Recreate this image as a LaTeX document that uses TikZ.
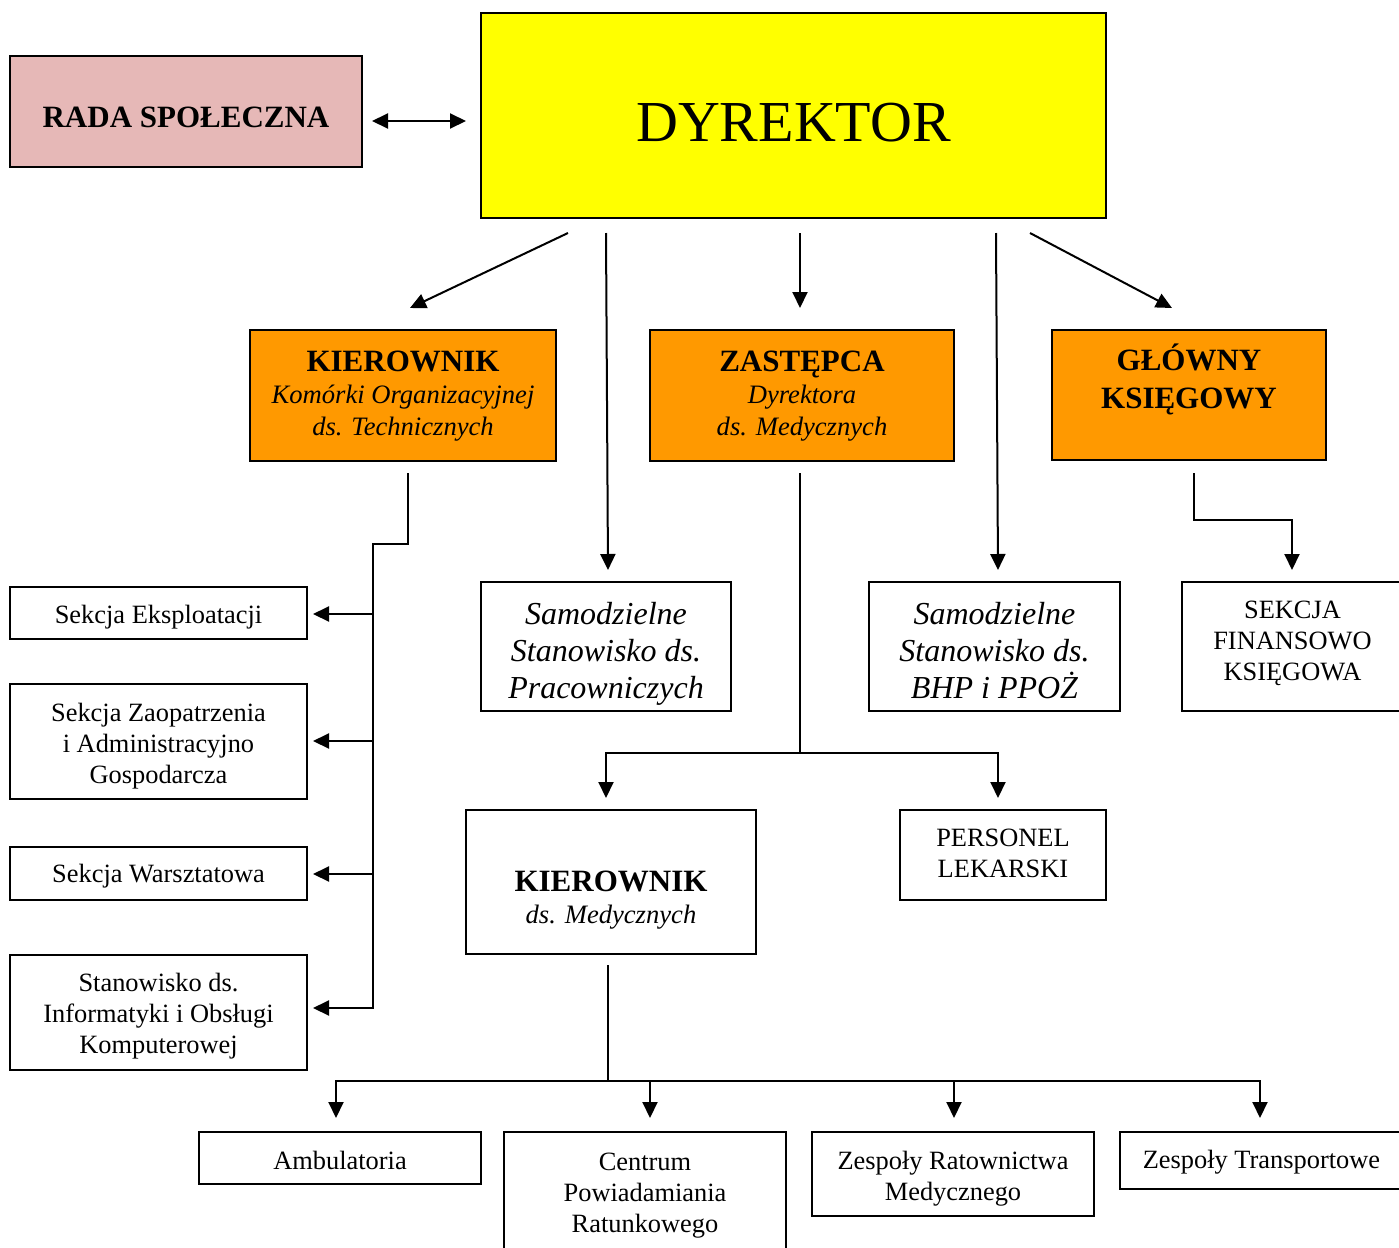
\documentclass[tikz,border=0pt]{standalone}
\usepackage{fontspec}
\setmainfont{Liberation Serif}
\usetikzlibrary{arrows.meta,calc}
\definecolor{pinkbox}{HTML}{E6B8B7}
\definecolor{yelbox}{HTML}{FFFF00}
\definecolor{orbox}{HTML}{FF9900}
\begin{document}
\begin{tikzpicture}[x=0.5pt,y=-0.5pt,
  box/.style={draw=black, line width=1pt, rectangle, inner sep=0pt},
  reg/.style={font=\fontsize{13.2}{15.5}\selectfont},
  ital/.style={font=\fontsize{13.3}{16}\selectfont\itshape},
  bigital/.style={font=\fontsize{16}{18.5}\selectfont\itshape},
  head/.style={font=\fontsize{15.5}{19}\selectfont\bfseries},
  txt/.style={inner sep=0pt, align=center},
  arr/.style={line width=1pt, -{Triangle[length=8pt,width=7.5pt]}},
  dblarr/.style={line width=1pt, {Triangle[length=8pt,width=7.5pt]}-{Triangle[length=8pt,width=7.5pt]}},
  ln/.style={line width=1pt}]
\useasboundingbox (0,0) rectangle (1399,1248);
\fill[white] (0,0) rectangle (1399,1248);

% top row
\node[box, fill=pinkbox, minimum width=176pt, minimum height=55.5pt] (rada) at (186,111.5) {};
\node[txt, head] (radat) at ($(rada)+(0,6)$) {RADA SPOŁECZNA};
\node[box, fill=yelbox, minimum width=312.5pt, minimum height=102.5pt] (dyr) at (793.5,115.5) {};
\node[txt, font=\fontsize{29}{32}\selectfont] (dyrt) at ($(dyr)+(0,7)$) {DYREKTOR};

% second row
\node[box, fill=orbox, minimum width=153pt, minimum height=65.5pt] (kier) at (403,395.5) {};
\node[txt, ital] (kiert) at ($(kier)+(0,1)$)
  {{\fontsize{15.5}{16}\selectfont\bfseries\upshape KIEROWNIK}\\Komórki Organizacyjnej\\ds. Technicznych};
\node[box, fill=orbox, minimum width=152pt, minimum height=65.5pt] (zast) at (802,395.5) {};
\node[txt, ital] (zastt) at ($(zast)+(0,1)$)
  {{\fontsize{15.5}{16}\selectfont\bfseries\upshape ZASTĘPCA}\\Dyrektora\\ds. Medycznych};
\node[box, fill=orbox, minimum width=137pt, minimum height=65pt] (glow) at (1189,395) {};
\node[txt, head] (glowt) at ($(glow)+(0,-15.5)$) {GŁÓWNY\\KSIĘGOWY};

% third row
\node[box, minimum width=125pt, minimum height=64.5pt] (samP) at (606,646.5) {};
\node[txt, bigital] (samPt) at ($(samP)+(0,7)$) {Samodzielne\\Stanowisko ds.\\Pracowniczych};
\node[box, minimum width=125.5pt, minimum height=64.5pt] (samB) at (994.5,646.5) {};
\node[txt, bigital] (samBt) at ($(samB)+(0,4.5)$) {Samodzielne\\Stanowisko ds.\\BHP i PPOŻ};
\node[box, minimum width=110.5pt, minimum height=64.5pt] (sekF) at (1292.5,646.5) {};
\node[txt, reg] (sekFt) at ($(sekF)+(0,-3.5)$) {SEKCJA\\FINANSOWO\\KSIĘGOWA};

% left column
\node[box, minimum width=148.5pt, minimum height=26pt] (e1) at (158.5,613) {};
\node[txt, reg] (e1t) at ($(e1)+(0,4)$) {Sekcja Eksploatacji};
\node[box, minimum width=148.5pt, minimum height=57.5pt] (e2) at (158.5,741.5) {};
\node[txt, reg] (e2t) at ($(e2)+(0,5)$) {Sekcja Zaopatrzenia\\i Administracyjno\\Gospodarcza};
\node[box, minimum width=148.5pt, minimum height=26.5pt] (e3) at (158.5,873.5) {};
\node[txt, reg] (e3t) at ($(e3)+(0,3)$) {Sekcja Warsztatowa};
\node[box, minimum width=148.5pt, minimum height=57.5pt] (e4) at (158.5,1012.5) {};
\node[txt, reg] (e4t) at ($(e4)+(0,4)$) {Stanowisko ds.\\Informatyki i Obsługi\\Komputerowej};

% medical
\node[box, minimum width=145pt, minimum height=72pt] (kmed) at (611,882) {};
\node[txt, ital] (kmedt) at ($(kmed)+(0,18)$) {{\fontsize{15.5}{17}\selectfont\bfseries\upshape KIEROWNIK}\\ds. Medycznych};
\node[box, minimum width=103pt, minimum height=45pt] (pers) at (1003,855) {};
\node[txt, reg] (perst) at ($(pers)+(0,-2)$) {PERSONEL\\LEKARSKI};

% bottom row
\node[box, minimum width=141pt, minimum height=26pt] (amb) at (340,1158) {};
\node[txt, reg] (ambt) at ($(amb)+(0,2)$) {Ambulatoria};
\node[box, minimum width=141pt, minimum height=69pt] (cen) at (645,1201) {};
\node[txt, reg] (cent) at ($(cen)+(0,-5.5)$) {Centrum\\Powiadamiania\\Ratunkowego};
\node[box, minimum width=141pt, minimum height=42pt] (zes) at (953,1174) {};
\node[txt, reg] (zest) at ($(zes)+(0,5)$) {Zespoły Ratownictwa\\Medycznego};
\node[box, minimum width=141.5pt, minimum height=28.5pt] (tra) at (1261.5,1160.5) {};
\node[txt, reg] (trat) at ($(tra)+(0,1.5)$) {Zespoły Transportowe};

% coordinates for connector ends
\coordinate (ra1) at (372,121);
\coordinate (ra2) at (466,121);
\coordinate (d1s) at (568,233); \coordinate (d1e) at (410,308);
\coordinate (d2s) at (606,233); \coordinate (d2e) at (608,570);
\coordinate (d3s) at (800,233); \coordinate (d3e) at (800,308);
\coordinate (d4s) at (996,233); \coordinate (d4e) at (998,570);
\coordinate (d5s) at (1030,233); \coordinate (d5e) at (1172,308);
\coordinate (k1) at (408,473); \coordinate (k2) at (408,544); \coordinate (k3) at (373,544);
\coordinate (kb1) at (373,614); \coordinate (kb2) at (373,741); \coordinate (kb3) at (373,874); \coordinate (kb4) at (373,1008);
\coordinate (ke1) at (313,614); \coordinate (ke2) at (313,741); \coordinate (ke3) at (313,874); \coordinate (ke4) at (313,1008);
\coordinate (g1) at (1194,473); \coordinate (g2) at (1194,520); \coordinate (g3) at (1292,570);
\coordinate (z1) at (800,473); \coordinate (z2) at (800,753);
\coordinate (zl) at (606,798); \coordinate (zr) at (998,798);
\coordinate (m1) at (608,965); \coordinate (m2) at (608,1081);
\coordinate (b1) at (336,1118); \coordinate (b2) at (650,1118); \coordinate (b3) at (954,1118); \coordinate (b4) at (1260,1118);

% connectors
\draw[dblarr] (ra1) -- (ra2);
\draw[arr] (d1s) -- (d1e);
\draw[arr] (d2s) -- (d2e);
\draw[arr] (d3s) -- (d3e);
\draw[arr] (d4s) -- (d4e);
\draw[arr] (d5s) -- (d5e);

\draw[arr] (k1) -- (k2) -- (k3) -- (kb4) -- (ke4);
\draw[arr] (kb1) -- (ke1);
\draw[arr] (kb2) -- (ke2);
\draw[arr] (kb3) -- (ke3);

\draw[arr] (g1) -- (g2) -| (g3);

\draw[ln] (z1) -- (z2);
\draw[arr] (z2) -| (zl);
\draw[arr] (z2) -| (zr);

\draw[ln] (m1) -- (m2);
\draw[arr] (m2) -| (b1);
\draw[arr] (m2) -| (b2);
\draw[arr] (m2) -| (b3);
\draw[arr] (m2) -| (b4);
\end{tikzpicture}
\end{document}
